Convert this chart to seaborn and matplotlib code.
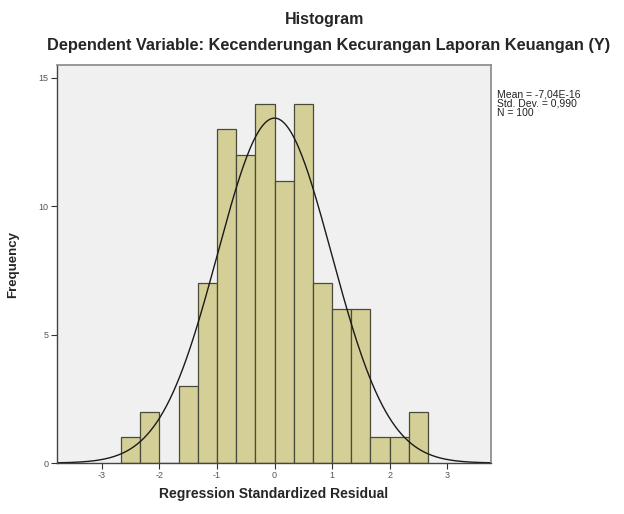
import numpy as np
import pandas as pd
import matplotlib
matplotlib.use("Agg")
import matplotlib.pyplot as plt
import seaborn as sns

## histogram data (bin width = 1/3)
bin_edges = [-8/3, -7/3, -2, -5/3, -4/3, -1, -2/3, -1/3, 0,
             1/3, 2/3, 1, 4/3, 5/3, 2, 7/3, 8/3]
counts = [1, 2, 0, 3, 7, 13, 12, 14, 11, 14, 7, 6, 6, 1, 1, 2]

## summary stats shown in the chart
mean_val = -7.04e-16
std_val = 0.990
n_val = 100

x_ticks = [-3, -2, -1, 0, 1, 2, 3]
y_ticks = [0, 5, 10, 15]

edges = np.array(bin_edges)
df = pd.DataFrame({'center': (edges[:-1] + edges[1:]) / 2, 'count': counts})

sns.set_style('white')
plt.rcParams['font.family'] = ['Liberation Sans', 'DejaVu Sans']
plt.rcParams['axes.unicode_minus'] = False

fig = plt.figure(figsize=(6.24, 5.14), dpi=100)
ax = fig.add_axes([0.0913, 0.0992, 0.6955, 0.7743])
ax.set_facecolor('#f0f0f0')

sns.histplot(data=df, x='center', weights='count', bins=bin_edges,
             color='#d4cf96', edgecolor='#4a4a3a', linewidth=0.9,
             alpha=1, ax=ax)

## fitted normal curve scaled to the histogram
bw = 1/3
xs = np.linspace(-3.78, 3.76, 400)
ys = n_val * bw * np.exp(-0.5 * ((xs - mean_val) / std_val) ** 2) / (std_val * np.sqrt(2 * np.pi))
sns.lineplot(x=xs, y=ys, color='#1a1a1a', linewidth=1.0, ax=ax)

ax.set_xlim(-3.78, 3.76)
ax.set_ylim(0, 15.5)
ax.set_xticks(x_ticks)
ax.set_yticks(y_ticks)
ax.tick_params(axis='both', labelsize=6.5, labelcolor='#555555', length=4,
               width=0.8, color='#333333', direction='out', pad=2)
ax.tick_params(bottom=True, left=True)
for side in ['left', 'bottom']:
    ax.spines[side].set_color('#444444')
    ax.spines[side].set_linewidth(1.0)
for side in ['top', 'right']:
    ax.spines[side].set_color('#888888')
    ax.spines[side].set_linewidth(1.2)

ax.set_xlabel('Regression Standardized Residual', fontsize=10, fontweight='bold', labelpad=5)
ax.set_ylabel('Frequency', fontsize=9.5, fontweight='bold', labelpad=14)

fig.text(0.52, 0.963, 'Histogram', ha='center', va='center', fontsize=11.5, fontweight='bold')
fig.text(0.527, 0.911, 'Dependent Variable: Kecenderungan Kecurangan Laporan Keuangan (Y)',
         ha='center', va='center', fontsize=11.8, fontweight='bold')

fig.text(0.797, 0.825, 'Mean = -7,04E-16\nStd. Dev. = 0,990\nN = 100',
         ha='left', va='top', fontsize=7.5, linespacing=0.85, color='#222222')

fig.savefig('out.png', dpi=100, facecolor='white')
